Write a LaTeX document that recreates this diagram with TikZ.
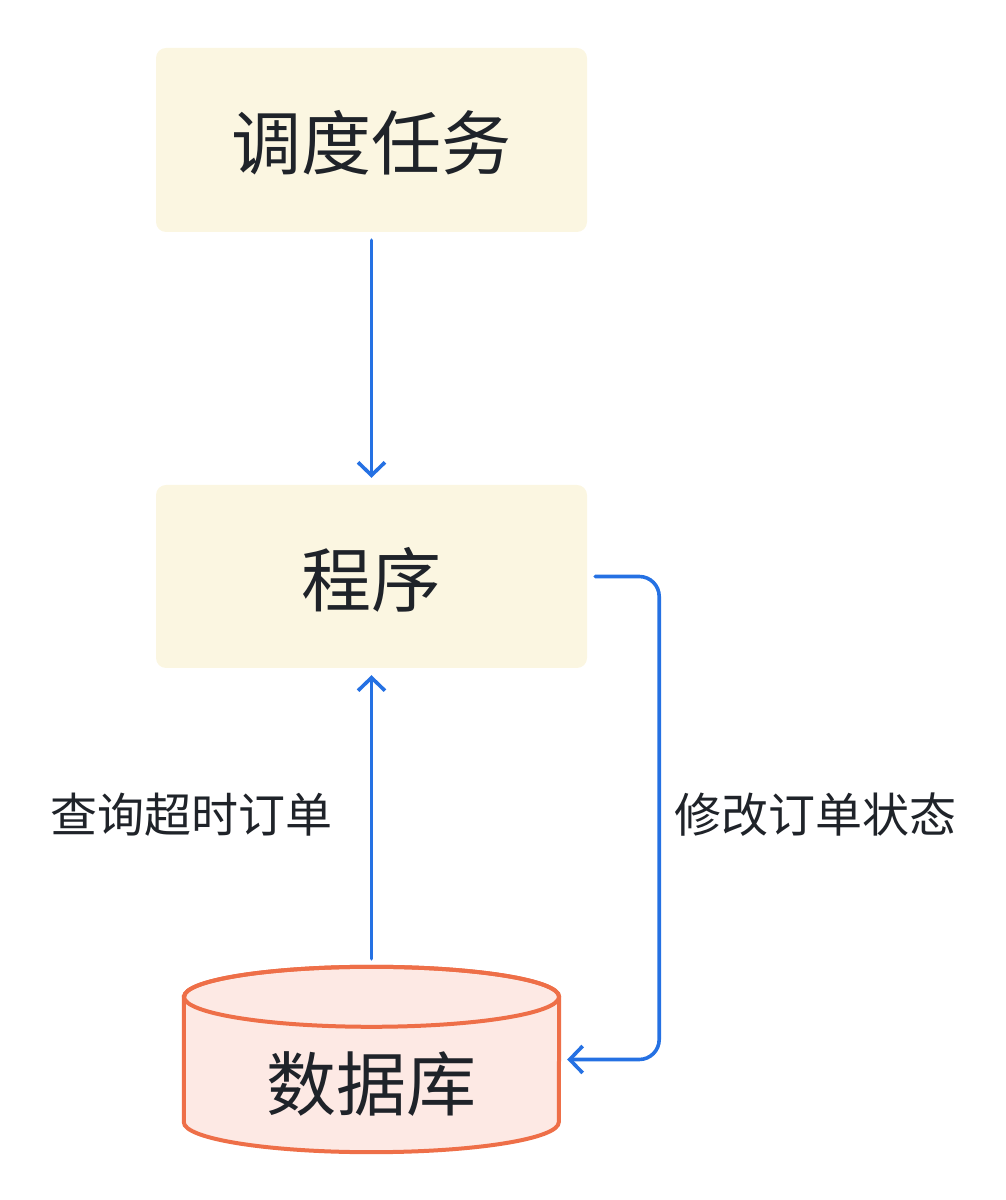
\documentclass[tikz,border=0pt]{standalone}
\usepackage{fontspec}
\setmainfont{Noto Sans CJK SC}
\usetikzlibrary{arrows.meta}
\definecolor{ink}{HTML}{1F2329}
\definecolor{boxfill}{HTML}{FBF6E1}
\definecolor{flowblue}{HTML}{2571E3}
\definecolor{dbline}{HTML}{EE6F48}
\definecolor{dbfill}{HTML}{FDE9E4}

\begin{document}
\begin{tikzpicture}
  [x=1pt,y=1pt,
   every node/.style={text=ink,font=\fontsize{70}{84}\selectfont},
   box/.style={fill=boxfill,rounded corners=10pt,minimum width=431pt,minimum height=184pt},
   flow/.style={draw=flowblue,line width=3.6pt,line cap=round,line join=round,
     -{Straight Barb[length=13pt,width=27pt]},shorten <=8pt,shorten >=7pt},
   note/.style={font=\fontsize{47}{56}\selectfont}]
  \useasboundingbox (0,0) rectangle (1006,1200);
  \node[box] (task) at (371.5,1060) {};
  \node[box,minimum height=183pt] (prog) at (371.5,623.5) {};
  \node (taskname) at ([yshift=-3pt]task.center) {调度任务};
  \node (progname) at ([yshift=-3pt]prog.center) {程序};
  \node[minimum width=375pt,minimum height=185pt] (db) at (371.5,140.5) {};
  % cylinder
  \filldraw[draw=dbline,fill=dbfill,line width=4pt]
    ([yshift=-30pt]db.north west) -- ([yshift=30pt]db.south west)
    arc[start angle=180,end angle=360,x radius=187.5pt,y radius=30pt]
    -- ([yshift=-30pt]db.north east)
    arc[start angle=0,end angle=180,x radius=187.5pt,y radius=30pt] -- cycle;
  \draw[draw=dbline,line width=4pt] ([yshift=-30pt]db.north) ellipse [x radius=187.5pt,y radius=30pt];
  \node (dbname) at ([yshift=-25pt]db.center) {数据库};
  \node[note] (query) at (191.5,385) {查询超时订单};
  \node[note] (update) at (815,385) {修改订单状态};
  \foreach \from/\to in {task/prog,db/prog}
    \draw[flow] (\from) -- (\to);
  \draw[flow,rounded corners=20pt,shorten >=8pt] (prog.east) -- ++(72,0) |- (db.east);
\end{tikzpicture}
\end{document}
